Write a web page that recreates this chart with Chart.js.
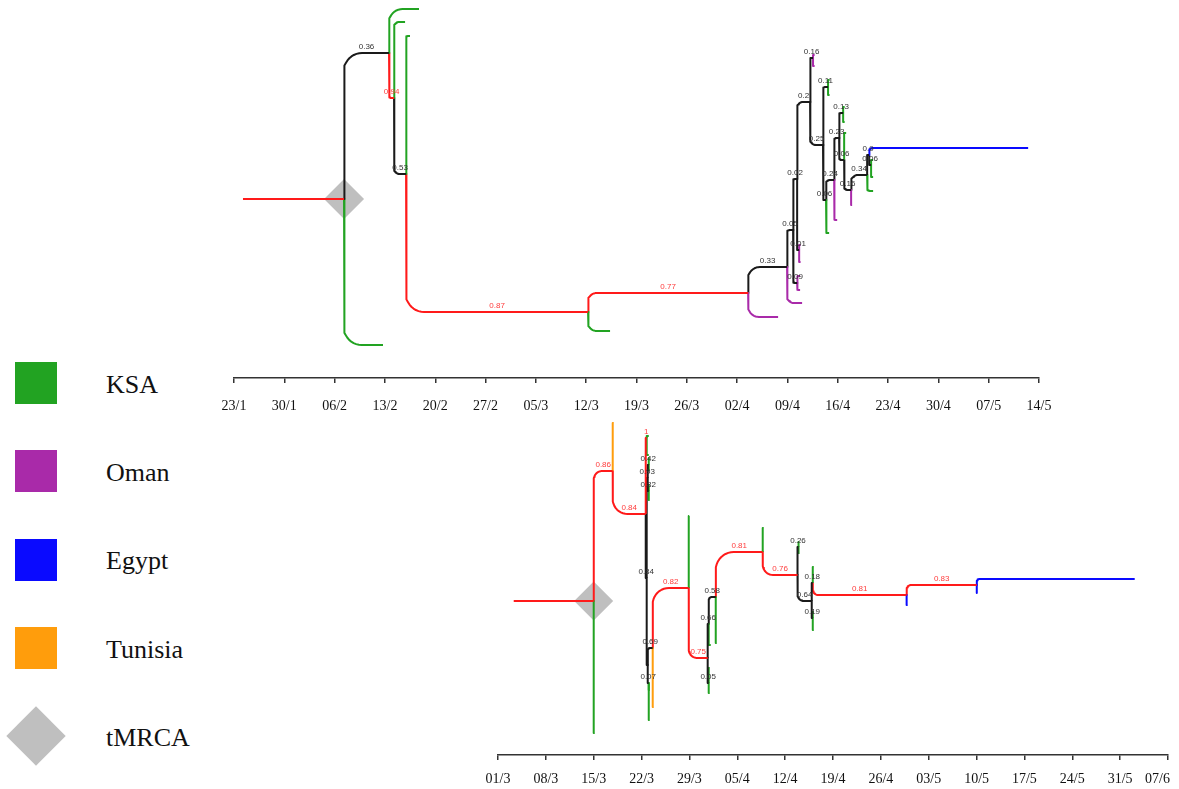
<!DOCTYPE html>
<html><head><meta charset="utf-8">
<script src="https://cdn.jsdelivr.net/npm/chart.js@4.4.1/dist/chart.umd.min.js"></script>
<style>
html,body{margin:0;padding:0;background:#fff;overflow:hidden;}
body{width:1179px;height:789px;position:relative;font-family:'Liberation Serif','Times New Roman',serif;}
canvas{position:absolute;}
.sw{position:absolute;left:15px;width:42px;height:42px;}
.dm{position:absolute;width:42px;height:42px;transform:rotate(45deg);}
.lt{position:absolute;left:106px;font-size:26px;line-height:26px;color:#111;white-space:nowrap;}
</style></head>
<body>
<div id="legend"></div>
<canvas id="topTree" width="1179" height="420" style="left:0;top:0"></canvas>
<canvas id="bottomTree" width="1240" height="379" style="left:0;top:410px"></canvas>
<script>
// ---------- axis tick labels ----------
const TOP_TICKS = ['23/1','30/1','06/2','13/2','20/2','27/2','05/3','12/3','19/3','26/3','02/4','09/4','16/4','23/4','30/4','07/5','14/5'];
const BOTTOM_TICKS = ['01/3','08/3','15/3','22/3','29/3','05/4','12/4','19/4','26/4','03/5','10/5','17/5','24/5','31/5','07/6'];

// ---------- legend ----------
const legendNames = ['KSA','Oman','Egypt','Tunisia','tMRCA'];

// ---------- top tree (days after 23/1, vertical row position) ----------
const topNode   = ['root','mrca','a36','k1','k2','a94','k3','a53','k4','a87','k5','a77','o1','a33','o2','a05','a09','o3','o4','a02','a01','o5','o6','a20','a16','o7','o8','a25','a11','k6','k7','a06','k8','a24','o9','a23','a13','k9','k10','b06','k11','b16','o10','a34','a90','k12','e1','c06','k13','k14'];
const topParent = [null,'root','mrca','mrca','a36','a36','a94','a94','a53','a53','a87','a87','a77','a77','a33','a33','a05','a09','a09','a05','a02','a01','a01','a02','a20','a16','a16','a20','a25','a11','a11','a25','a06','a06','a24','a24','a23','a13','a13','a23','b06','b06','b16','b16','a34','a34','a90','a90','c06','c06'];
const topDay    = [1.25,15.31,21.57,20.73,25.74,22.27,23.80,23.94,24.49,49.26,52.32,71.53,75.70,76.95,79.04,77.79,78.35,78.76,78.76,78.35,78.63,78.83,78.83,80.15,80.56,80.78,80.78,81.95,82.65,82.86,82.86,82.37,82.80,83.50,83.92,84.19,84.75,84.96,84.96,84.89,85.17,85.86,86.00,88.09,88.37,88.92,110.49,88.64,88.92,88.92];
const topRow    = [179,179,325,33,369,280,356,204,342,66,47,85,61,111,75,148,95,102,88,199,128,133,116,276,320,323,312,233,291,298,283,178,145,198,158,240,265,271,256,218,245,188,173,203,223,187,230,213,218,201];
const topState  = ['red','red','black','KSA','KSA','red','KSA','black','KSA','red','KSA','red','Oman','black','Oman','black','black','Oman','Oman','black','black','Oman','Oman','black','black','Oman','Oman','black','black','KSA','KSA','black','KSA','black','Oman','black','black','KSA','KSA','black','KSA','black','Oman','black','black','KSA','Egypt','black','KSA','KSA'];
const topLabel  = ['','','0.36','','','0.94','','0.53','','0.87','','0.77','','0.33','','0.05','0.09','','','0.02','0.01','','','0.2','0.16','','','0.25','0.11','','','0.06','','0.24','','0.23','0.13','','','0.06','','0.16','','0.34','0.9','','','0.06','',''];

// ---------- bottom tree (days after 01/3, vertical row position) ----------
const botNode   = ['root','mrca','k1','b86','t1','b84','b1','k2','k3','c84','b93','b42','k4','k5','b82','k6','k7','m1','b69','b07','k8','k9','t2','c82','k10','b75','b66','k11','b58','k12','b05','k13','k14','b81','k15','b76','b26','k16','k17','b64','b18','k18','c81','b19','k19','k20','e1','b83','e2','e3'];
const botParent = [null,'root','mrca','mrca','b86','b86','b84','b1','b1','b84','c84','b93','b42','b42','b93','b82','b82','c84','m1','m1','b07','b07','b69','b69','c82','c82','b75','b66','b66','b58','b75','b05','b05','b58','b81','b81','b76','b26','b26','b76','b64','b18','b18','b64','b19','b19','c81','c81','b83','b83'];
const botDay    = [2.30,14.00,14.15,16.78,16.93,21.61,21.75,22.05,22.05,21.75,21.90,22.05,22.19,22.19,22.05,22.19,22.19,21.90,22.63,22.05,22.19,22.19,22.78,27.90,27.97,30.67,30.82,31.12,31.85,32.00,30.82,30.97,30.97,38.72,38.87,43.81,43.96,44.11,44.11,45.89,46.04,46.19,59.77,46.04,46.19,46.19,59.92,70.03,93.13,70.10];
const botRow    = [154,154,22,284,332,241,317,319,300,177,277,290,297,285,264,270,255,90,107,72,35,65,48,167,239,97,131,110,158,112,72,62,87,203,227,180,208,213,202,154,172,188,160,137,143,125,150,170,176,162];
const botState  = ['red','red','KSA','red','Tunisia','red','red','KSA','KSA','black','black','black','KSA','KSA','black','KSA','KSA','black','black','black','KSA','KSA','Tunisia','red','KSA','red','black','KSA','black','KSA','black','KSA','KSA','red','KSA','red','black','KSA','KSA','black','black','KSA','red','black','KSA','KSA','Egypt','red','Egypt','Egypt'];
const botLabel  = ['','','','0.86','','0.84','1','','','0.84','0.93','0.42','','','0.82','','','','0.69','0.07','','','','0.82','','0.75','0.66','','0.58','','0.05','','','0.81','','0.76','0.26','','','0.64','0.18','','0.81','0.19','','','','0.83','',''];

// ---------- styles ----------
const COLORS = {KSA:'#22a322', Oman:'#a92aa9', Egypt:'#0a0aff', Tunisia:'#ff9d0c', tMRCA:'#bfbfbf', red:'#ff1a1a', black:'#1a1a1a'};
const LABEL_COLORS = {red:'#ff3c3c', black:'#333333'};
const CORNER = 18;

// legend
(function(){
  const lg = document.getElementById('legend');
  legendNames.forEach((name, i) => {
    const base = 393.3 + i * 88.35;
    if (name === 'tMRCA') {
      const d = document.createElement('div'); d.className = 'dm';
      d.style.background = COLORS[name]; d.style.left = (36.2 - 21) + 'px'; d.style.top = (base - 11 - 21) + 'px';
      lg.appendChild(d);
    } else {
      const s = document.createElement('div'); s.className = 'sw';
      s.style.background = COLORS[name]; s.style.top = (base - 31.5) + 'px';
      lg.appendChild(s);
    }
    const t = document.createElement('div'); t.className = 'lt'; t.textContent = name;
    t.style.top = (base - 21.8) + 'px';
    lg.appendChild(t);
  });
})();

function branchPoints(px, py, cx, cy, pxPerDay) {
  const dxPx = (cx - px) * pxPerDay, dyPx = Math.abs(cy - py);
  if (dyPx < 0.5) return [{x:px,y:py},{x:cx,y:cy}];
  const r = Math.min(CORNER, dyPx * 0.45, dxPx * 0.45);
  if (r < 1) return [{x:px,y:py},{x:px,y:cy},{x:cx,y:cy}];
  const s = Math.sign(cy - py), rx = r / pxPerDay, ry = r;
  const pts = [{x:px,y:py}];
  for (let i = 0; i <= 10; i++) {
    const t = i / 10 * Math.PI / 2;
    pts.push({x: px + rx * (1 - Math.cos(t)), y: cy - s * ry * (1 - Math.sin(t))});
  }
  pts.push({x:cx,y:cy});
  return pts;
}

function makeTree(canvasId, ids, parents, days, rows, states, labels, o) {
  const canvas = document.getElementById(canvasId);
  const idx = {}; ids.forEach((id, i) => idx[id] = i);
  const pxPerDay = (canvas.width - o.padLeft - o.padRight) / o.xMax;
  const datasets = [];
  ids.forEach((id, i) => {
    const p = parents[i]; if (p === null) return;
    const j = idx[p];
    datasets.push({
      type:'line', data: branchPoints(days[j], rows[j], days[i], rows[i], pxPerDay),
      borderColor: COLORS[states[i]], borderWidth: 2, pointRadius: 0, tension: 0,
      fill: false, order: 0, borderCapStyle: 'butt', borderJoinStyle: 'round', clip: false
    });
  });
  const m = idx['mrca'];
  datasets.push({type:'line', data:[{x:days[m], y:rows[m]}], showLine:false, pointStyle:'rectRot',
    pointRadius: o.diamond, backgroundColor: COLORS.tMRCA, borderWidth: 0, pointBorderWidth: 0, order: 5, clip: false});

  const labelPlugin = {
    id: 'supportLabels',
    afterDatasetsDraw(chart) {
      const {ctx, scales:{x, y}} = chart;
      ctx.save();
      ctx.font = '8px "Liberation Sans", Arial, sans-serif';
      ctx.textAlign = 'center'; ctx.textBaseline = 'alphabetic';
      ids.forEach((id, i) => {
        if (!labels[i]) return;
        const j = idx[parents[i]];
        const xm = (x.getPixelForValue(days[j]) + x.getPixelForValue(days[i])) / 2;
        ctx.fillStyle = LABEL_COLORS[states[i]] || '#333';
        ctx.fillText(labels[i], xm, y.getPixelForValue(rows[i]) - 4);
      });
      ctx.restore();
    }
  };

  return new Chart(canvas, {
    type: 'line',
    data: { datasets },
    plugins: [labelPlugin],
    options: {
      responsive: false, animation: false, events: [],
      layout: { autoPadding: false, padding: { left: o.padLeft, right: o.padRight, top: 0, bottom: 0 } },
      plugins: { legend: { display: false }, tooltip: { enabled: false } },
      scales: {
        x: {
          type: 'linear', min: 0, max: o.xMax, position: 'bottom',
          afterFit: (s) => { s.height = o.axisHeight; },
          border: { display: true, color: '#333', width: 1.5 },
          grid: { display: true, drawOnChartArea: false, drawTicks: true, tickLength: 5, color: '#333', lineWidth: 1.5 },
          ticks: { stepSize: 7, autoSkip: false, maxRotation: 0, minRotation: 0, padding: o.tickPad, color: '#111',
            font: { family: "'Liberation Serif', 'Times New Roman', serif", size: 14 },
            callback: (v, i) => (i === o.ticks.length - 1 && o.lastPad) ? o.ticks[i] + '\u00a0'.repeat(o.lastPad) : o.ticks[i] }
        },
        y: { type: 'linear', display: false, min: 0, max: o.yMax }
      }
    }
  });
}

makeTree('topTree', topNode, topParent, topDay, topRow, topState, topLabel,
  {xMax: 112, ticks: TOP_TICKS, padLeft: 234, padRight: 140, yMax: 378, axisHeight: 42, tickPad: 15, diamond: 20, lastPad: 0});
makeTree('bottomTree', botNode, botParent, botDay, botRow, botState, botLabel,
  {xMax: 98, ticks: BOTTOM_TICKS, padLeft: 498, padRight: 72, yMax: 345, axisHeight: 34, tickPad: 11, diamond: 19.5, lastPad: 6});
</script>
</body></html>
